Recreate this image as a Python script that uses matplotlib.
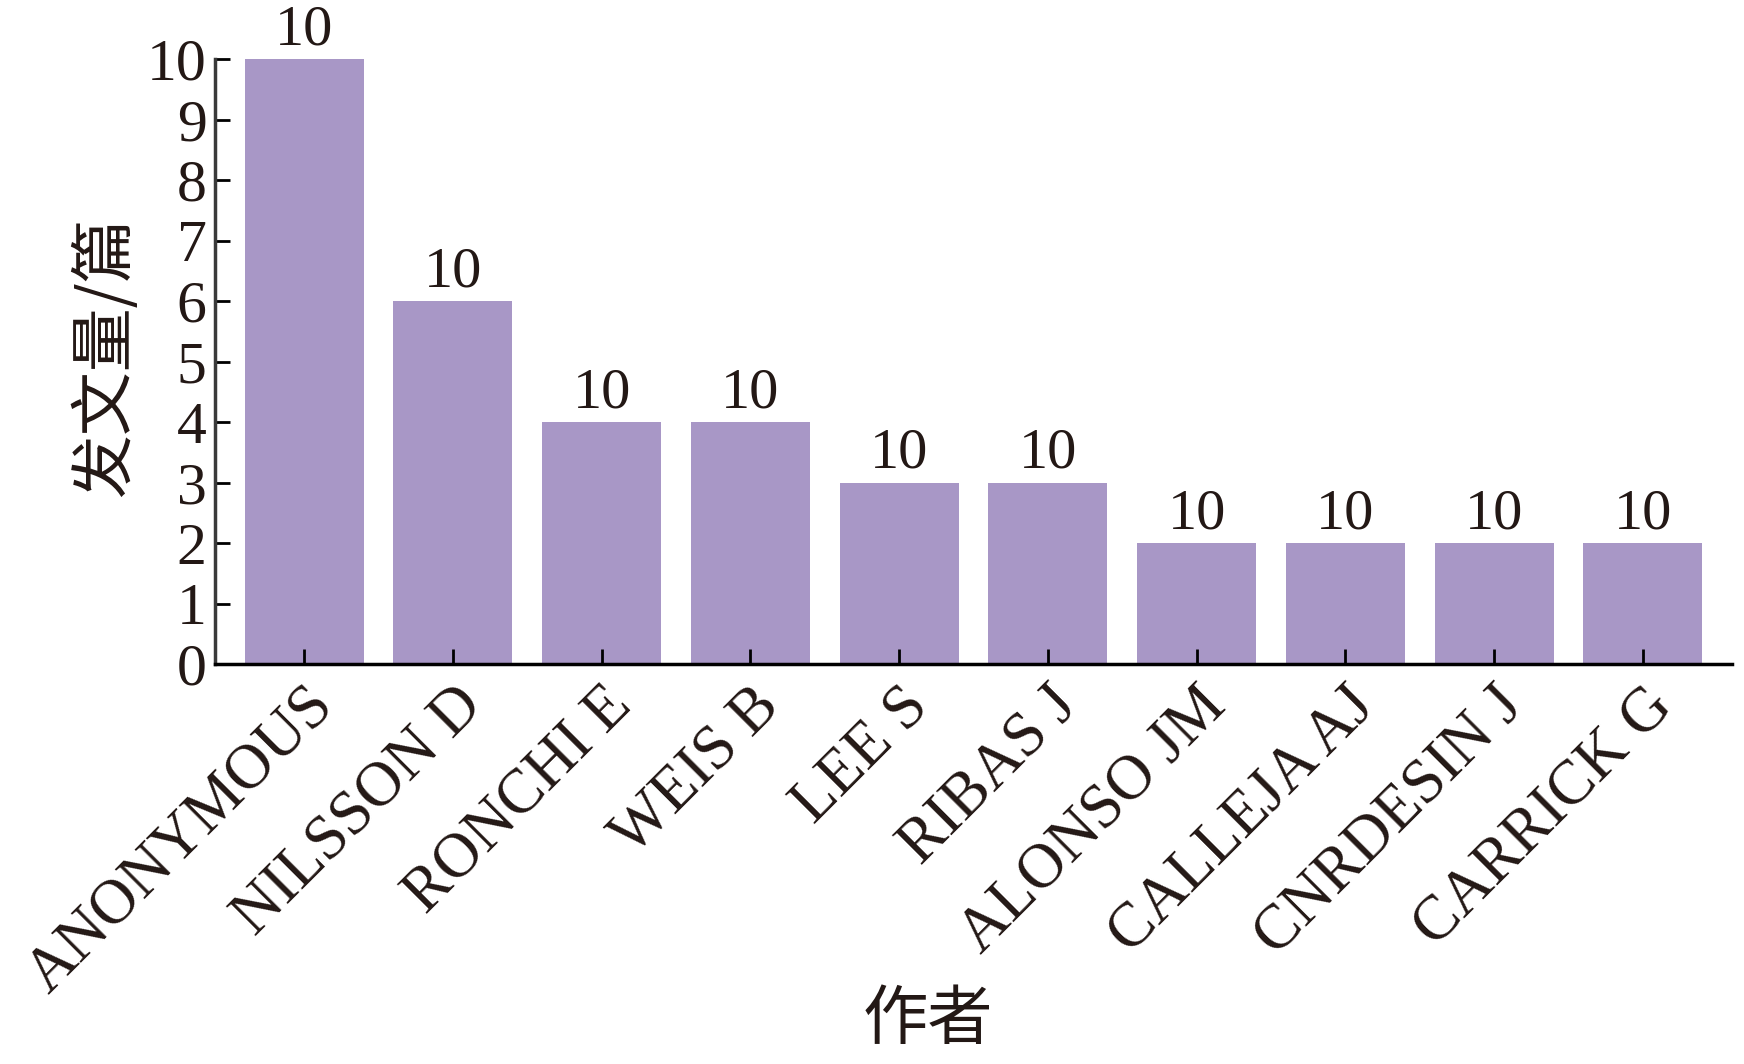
import matplotlib
matplotlib.use('Agg')
import numpy as np
from matplotlib import pyplot as plt

authors = ['ANONYMOUS', 'NILSSON D', 'RONCHI E', 'WEIS B', 'LEE S',
           'RIBAS J', 'ALONSO JM', 'CALLEJA AJ', 'CNRDESIN J', 'CARRICK G']
counts = [10, 6, 4, 4, 3, 3, 2, 2, 2, 2]
bar_labels = ['10'] * 10
yticks = list(range(0, 11))

serif = ['Liberation Serif', 'DejaVu Serif']
cjk = ['Noto Sans CJK SC', 'DejaVu Sans']

fig = plt.figure(figsize=(17.44, 10.64), dpi=100)
ax = fig.add_axes([0.1233, 0.3759, 0.8698, 0.5686])

x = np.arange(len(authors))
bars = ax.bar(x, counts, width=0.8, color='#a897c6')
ax.bar_label(bars, labels=bar_labels, padding=2, fontsize=42, family=serif, color='#231815')

ax.set_xlim(-0.6, 9.6)
ax.set_ylim(0, 10)
ax.set_yticks(yticks)
ax.set_yticklabels([str(v) for v in yticks], fontsize=43, family=serif, color='#231815')
ax.set_xticks(x)
ax.set_xticklabels(authors, rotation=45, ha='right', va='top', rotation_mode='anchor',
                   fontsize=45, family=serif, color='#231815')
ax.tick_params(axis='both', direction='in', length=11, width=2, pad=6)
ax.tick_params(axis='x', pad=9)

for s in ['top', 'right']:
    ax.spines[s].set_visible(False)
ax.spines['left'].set_color('#3a3a3a')
ax.spines['left'].set_linewidth(2.5)
ax.spines['bottom'].set_color('black')
ax.spines['bottom'].set_linewidth(2.5)

fig.text(0.0608, 0.665, '发文量/篇', fontsize=46, family=cjk, fontweight='medium',
         rotation=90, ha='center', va='center', color='#231815')
fig.text(0.532, 0.041, '作者', fontsize=47, family=cjk, fontweight='medium',
         ha='center', va='center', color='#231815')

fig.savefig('out.png', dpi=100)
